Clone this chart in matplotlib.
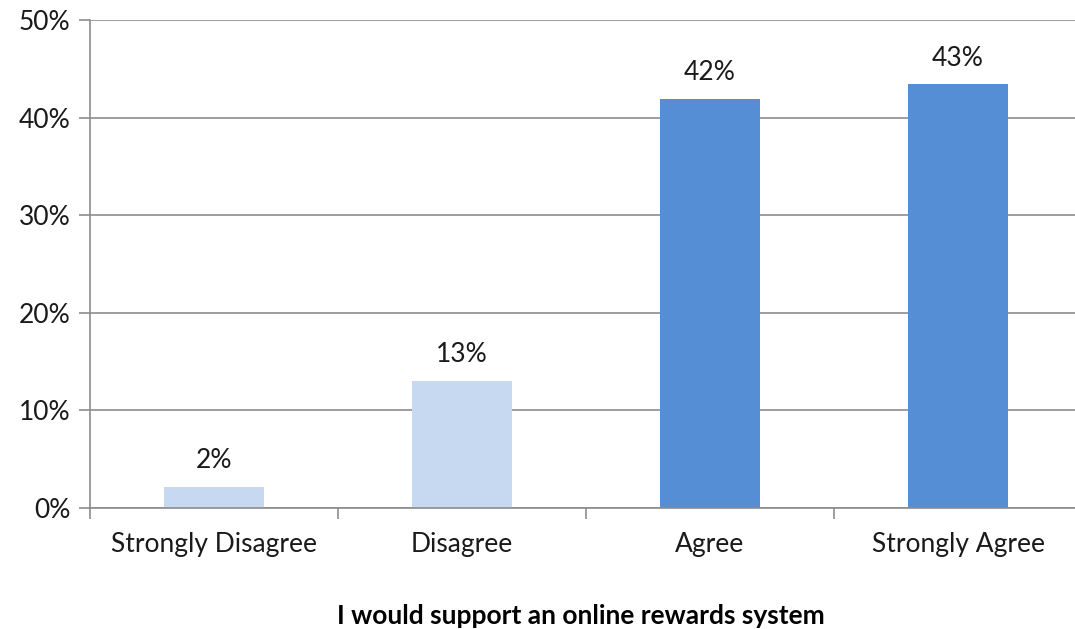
import matplotlib.pyplot as plt
from matplotlib.ticker import FuncFormatter, FixedLocator

categories = ["Strongly Disagree", "Disagree", "Agree", "Strongly Agree"]
values = [2.2, 13.0, 41.9, 43.4]
labels = ["2%", "13%", "42%", "43%"]
colors = ["#C6D9F1", "#C6D9F1", "#558ED5", "#558ED5"]
title = "I would support an online rewards system"

plt.rcParams['font.family'] = ['Lato', 'DejaVu Sans']

fig = plt.figure(figsize=(10.75, 6.29), dpi=100)
ax = fig.add_axes([90 / 1075, 1 - 508 / 629, 992 / 1075, 488 / 629])

x = range(len(categories))
bars = ax.bar(x, values, width=0.403, color=colors, zorder=2)
for b, lab in zip(bars, labels):
    ax.annotate(lab, (b.get_x() + b.get_width() / 2, b.get_height()),
                xytext=(0, 10), textcoords='offset points',
                ha='center', va='bottom', fontsize=19, color='#1a1a1a')

ax.set_xlim(-0.5, 3.5)
ax.set_ylim(0, 50)
ax.set_yticks(range(0, 51, 10))
ax.yaxis.set_major_formatter(FuncFormatter(lambda v, p: f"{int(v)}%"))
ax.set_xticks(list(x))
ax.set_xticklabels(categories)
ax.xaxis.set_minor_locator(FixedLocator([-0.5, 0.5, 1.5, 2.5, 3.5]))
ax.tick_params(axis='x', which='major', length=0, pad=17, labelsize=19, labelcolor='#1a1a1a')
ax.tick_params(axis='x', which='minor', length=8, width=1.2, color='#8c8c8c')
ax.tick_params(axis='y', length=8, width=1.2, color='#8c8c8c', labelsize=19,
               labelcolor='#1a1a1a', pad=6)

ax.grid(axis='y', color='#8c8c8c', linewidth=1.2, zorder=0)
for s in ['top', 'right']:
    ax.spines[s].set_visible(False)
for s in ['left', 'bottom']:
    ax.spines[s].set_color('#8c8c8c')
    ax.spines[s].set_linewidth(1.2)

fig.text(581 / 1075, 1 - 616 / 629, title, ha='center', va='center',
         fontsize=19, fontweight='bold')

fig.savefig("out.png", dpi=100)
